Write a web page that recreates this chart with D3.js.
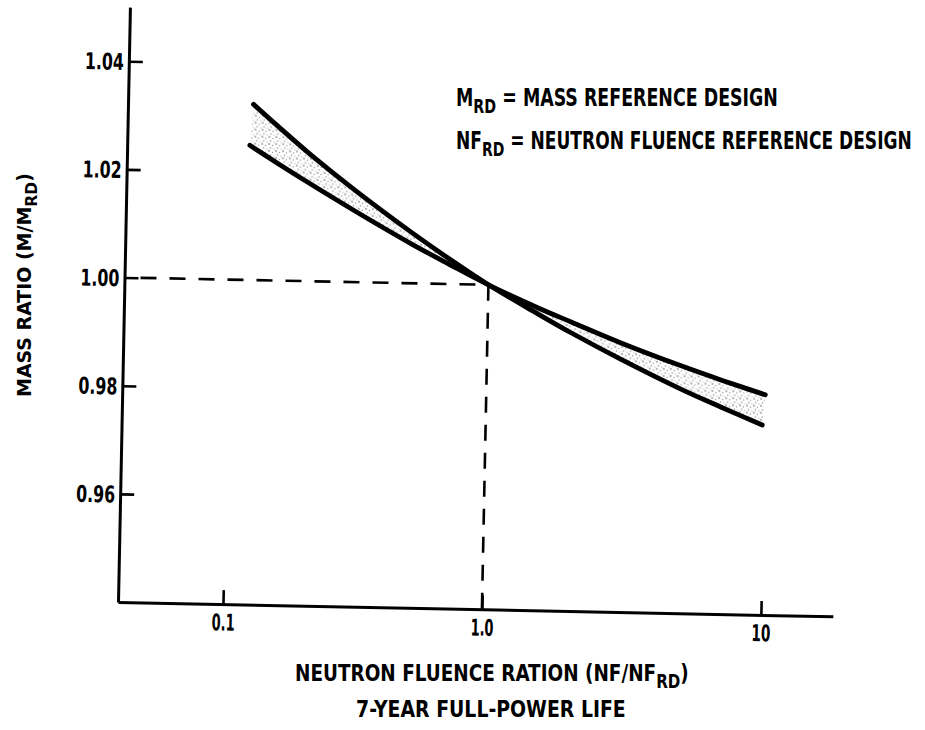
<!DOCTYPE html>
<html>
<head>
<meta charset="utf-8">
<script src="https://cdn.jsdelivr.net/npm/d3@7"></script>
<style>
  html, body { margin: 0; padding: 0; background: #fff; }
  svg { display: block; }
  text { font-family: "Liberation Sans Narrow", "Arial Narrow", "DejaVu Sans Condensed", "DejaVu Sans", sans-serif; font-weight: bold; fill: #000; }
</style>
</head>
<body>
<script>
// ---------------- data ----------------
const xTickValues = [0.1, 1, 10];
const xTickLabels = ["0.1", "1.0", "10"];
const yTickValues = [0.96, 0.98, 1.00, 1.02, 1.04];
const yTickLabels = ["0.96", "0.98", "1.00", "1.02", "1.04"];

// curve starting higher at the left (steeper)
const curveAx = [0.12, 0.15, 0.2, 0.3, 0.5, 0.7, 1.0, 1.5, 2, 3, 5, 7, 9.8];
const curveAy = [1.0325, 1.0285, 1.0235, 1.0170, 1.0094, 1.0047, 1.0000, 0.9949, 0.9914, 0.9868, 0.9814, 0.9782, 0.9751];
// curve starting lower at the left (flatter)
const curveBx = [0.117, 0.15, 0.2, 0.3, 0.5, 0.7, 1.0, 1.5, 2, 3, 5, 7, 10];
const curveBy = [1.0249, 1.0217, 1.0181, 1.0132, 1.0073, 1.0037, 1.0000, 0.9960, 0.9934, 0.9898, 0.9857, 0.9832, 0.9807];

const refX = 1.0, refY = 1.00;

// ---------------- drawing ----------------
const W = 925, H = 730;
const svg = d3.select("body").append("svg").attr("width", W).attr("height", H);

const defs = svg.append("defs");
const pat = defs.append("pattern").attr("id", "stip").attr("patternUnits", "userSpaceOnUse")
  .attr("width", 7).attr("height", 7);
[[1,1,0.9],[4.5,2.5,0.7],[2.5,5,0.8],[6,6,0.6]].forEach(d =>
  pat.append("circle").attr("cx", d[0]).attr("cy", d[1]).attr("r", d[2]).attr("fill", "#777"));

// x scale: piecewise log (hand-drawn decades are slightly unequal)
const x = d3.scaleLog().domain([0.0393, 0.1, 1, 10, 18.1]).range([118, 223, 482, 761, 833]);
const y = d3.scaleLinear().domain([0.94, 1.05]).range([602, 7]);

const plot = svg.append("g").attr("transform", "rotate(1.15,118,602)");

// band between curves
const ptsA = curveAx.map((v, i) => [x(v), y(curveAy[i])]);
const ptsB = curveBx.map((v, i) => [x(v), y(curveBy[i])]);
const lineGen = d3.line().curve(d3.curveCatmullRom);
const bandPath = lineGen(ptsA) + "L" + lineGen(ptsB.slice().reverse()).slice(1) + "Z";
plot.append("path").attr("d", bandPath).attr("fill", "url(#stip)").attr("stroke", "none").attr("opacity", 0.8);

// dashed reference lines
plot.append("line")
  .attr("x1", x.range()[0] + 16).attr("x2", x(refX))
  .attr("y1", y(refY)).attr("y2", y(refY))
  .attr("stroke", "#000").attr("stroke-width", 2.6).attr("stroke-dasharray", "16,13");
plot.append("line")
  .attr("x1", x(refX)).attr("x2", x(refX))
  .attr("y1", y(refY)).attr("y2", y.range()[0])
  .attr("stroke", "#000").attr("stroke-width", 2.6).attr("stroke-dasharray", "16,12");

// curves
[ptsA, ptsB].forEach(p => {
  plot.append("path").attr("d", lineGen(p)).attr("fill", "none")
    .attr("stroke", "#000").attr("stroke-width", 4.8).attr("stroke-linecap", "round");
});

// axes
const xAxis = d3.axisBottom(x).tickValues(xTickValues)
  .tickFormat((d, i) => xTickLabels[i]).tickSizeInner(-14).tickSizeOuter(0).tickPadding(10);
const gx = plot.append("g").attr("transform", `translate(0,${y.range()[0]})`).call(xAxis);
const yAxis = d3.axisLeft(y).tickValues(yTickValues)
  .tickFormat((d, i) => yTickLabels[i]).tickSizeInner(-14).tickSizeOuter(0).tickPadding(5);
const gy = plot.append("g").attr("transform", `translate(${x.range()[0]},0)`).call(yAxis);

[gx, gy].forEach(g => {
  g.select(".domain").attr("stroke", "#000").attr("stroke-width", 3);
  g.selectAll(".tick line").attr("stroke", "#000").attr("stroke-width", 2.6);
  g.selectAll(".tick text").attr("font-size", 23).attr("fill", "#000")
    .attr("lengthAdjust", "spacingAndGlyphs")
    .attr("textLength", function() { const s = this.textContent; return s.length === 4 ? 39 : (s === "10" ? 19 : 23); });
});
gy.selectAll(".tick text").attr("dy", "0.36em");

// ---------------- text (condensed by horizontal scaling) ----------------
function subText(parent, xPos, yPos, parts, size, len) {
  const g = parent.append("g");
  const t = g.append("text").attr("x", 0).attr("y", 0).attr("font-size", size);
  parts.forEach(p => {
    const ts = t.append("tspan").text(p.t);
    if (p.sub) ts.attr("font-size", size * 0.82).attr("dy", size * 0.3);
    if (p.back) ts.attr("dy", -size * 0.3);
  });
  const w = t.node().getBBox().width || len;
  g.attr("transform", `translate(${xPos},${yPos}) scale(${len / w},1)`);
  return g;
}

// legend
subText(svg, 456, 106, [{t: "M"}, {t: "RD", sub: true}, {t: " = MASS REFERENCE DESIGN", back: true}], 24, 322);
subText(svg, 456, 149, [{t: "NF"}, {t: "RD", sub: true}, {t: " = NEUTRON FLUENCE REFERENCE DESIGN", back: true}], 24, 456);

// x title
subText(svg, 295, 681, [{t: "NEUTRON FLUENCE RATION (NF/NF"}, {t: "RD", sub: true}, {t: ")", back: true}], 23, 394);
subText(svg, 356, 717, [{t: "7-YEAR FULL-POWER LIFE"}], 23, 270);

// y title
const yt = svg.append("g").attr("transform", "translate(31,397) rotate(-90)");
subText(yt, 0, 0, [{t: "MASS RATIO (M/M"}, {t: "RD", sub: true}, {t: ")", back: true}], 20, 224);
</script>
</body>
</html>
